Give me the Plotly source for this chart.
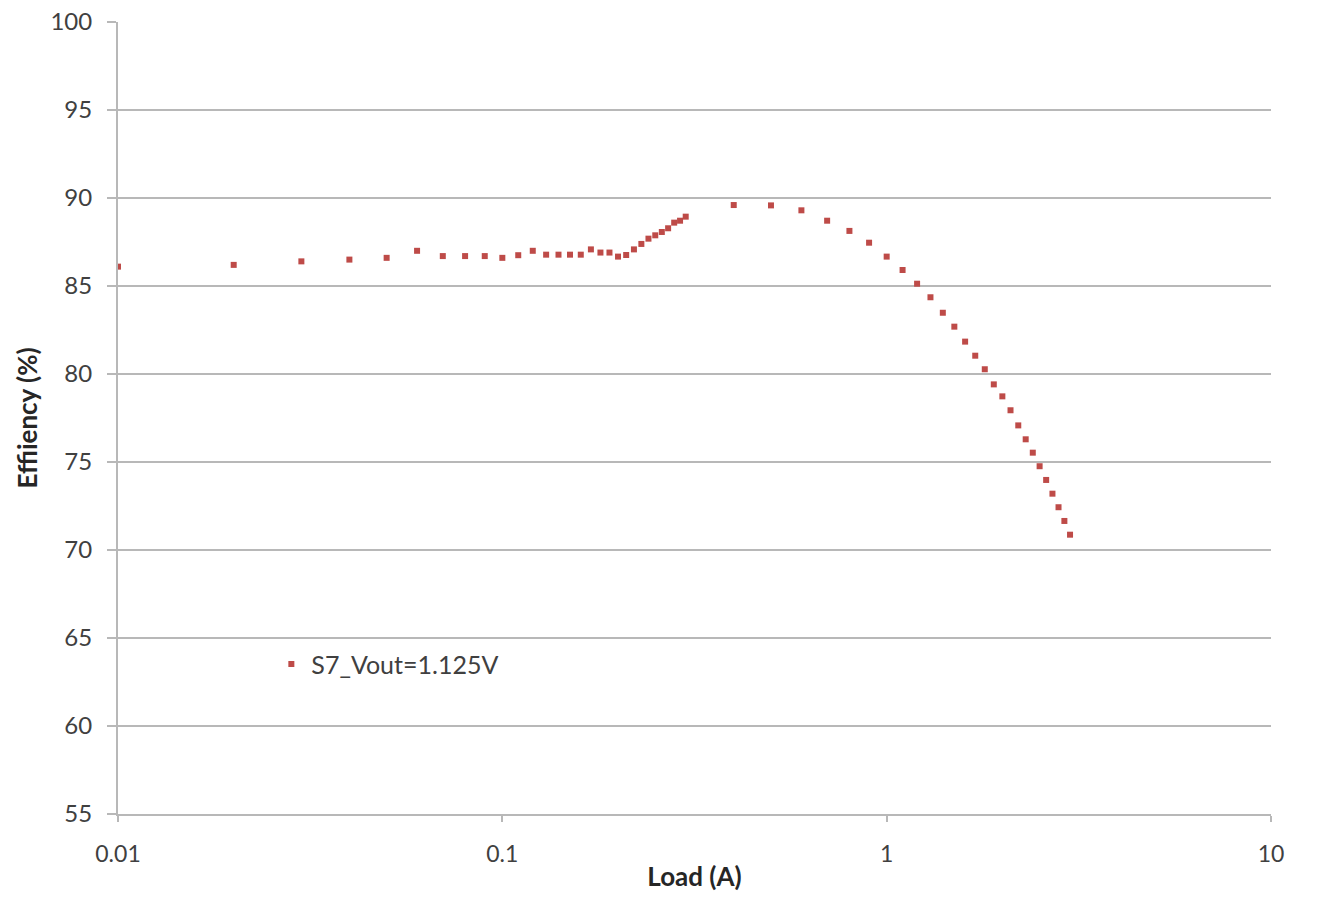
import plotly.graph_objects as go

load_a = [0.01, 0.02, 0.03, 0.04, 0.05, 0.06, 0.07, 0.08, 0.09, 0.1,
          0.11, 0.12, 0.13, 0.14, 0.15, 0.16, 0.17, 0.18, 0.19, 0.2,
          0.21, 0.22, 0.23, 0.24, 0.25, 0.26, 0.27, 0.28, 0.29, 0.3,
          0.4, 0.5, 0.6, 0.7, 0.8, 0.9, 1.0, 1.1, 1.2, 1.3,
          1.4, 1.5, 1.6, 1.7, 1.8, 1.9, 2.0, 2.1, 2.2, 2.3,
          2.4, 2.5, 2.6, 2.7, 2.8, 2.9, 3.0]
efficiency = [86.1, 86.2, 86.4, 86.5, 86.6, 87.0, 86.7, 86.7, 86.7, 86.6,
              86.75, 87.0, 86.78, 86.78, 86.78, 86.78, 87.08, 86.9, 86.9, 86.67,
              86.76, 87.08, 87.39, 87.69, 87.88, 88.07, 88.28, 88.6, 88.71, 88.94,
              89.6, 89.58, 89.3, 88.71, 88.13, 87.46, 86.67, 85.91, 85.13, 84.36,
              83.48, 82.69, 81.84, 81.04, 80.27, 79.41, 78.73, 77.94, 77.08, 76.29,
              75.53, 74.76, 73.98, 73.2, 72.43, 71.65, 70.87]
series_name = "S7_Vout=1.125V"
x_tickvals = [0.01, 0.1, 1, 10]
x_ticktext = ["0.01", "0.1", "1", "10"]
y_tickvals = [55, 60, 65, 70, 75, 80, 85, 90, 95, 100]

FONT = "Lato"
TXT = "#404040"
GRID = "#b8b8b8"

fig = go.Figure()
fig.add_trace(go.Scatter(
    x=load_a, y=efficiency, mode="markers", name=series_name,
    marker=dict(symbol="square", size=6, color="#be4b48"),
    showlegend=True,
))

fig.update_layout(
    width=1322, height=897,
    margin=dict(l=118, r=51, t=22, b=83),
    paper_bgcolor="white", plot_bgcolor="white",
    font=dict(family=FONT, size=23, color=TXT),
    showlegend=True,
    legend=dict(x=0.133, y=0.189, xanchor="left", yanchor="middle",
                bgcolor="rgba(0,0,0,0)", font=dict(family=FONT, size=25, color=TXT),
                itemsizing="trace"),
    xaxis=dict(type="log", range=[-2, 1], tickvals=x_tickvals, ticktext=x_ticktext,
               automargin=False,
               showgrid=False, showline=True, linecolor=GRID, linewidth=2,
               ticks="outside", ticklen=6, tickcolor=GRID, tickwidth=2,
               ticklabelstandoff=12, zeroline=False,
               tickfont=dict(family=FONT, size=23, color=TXT),
               title=dict(text="<b>Load (A)</b>", font=dict(family=FONT, size=26, color="#262626"),
                          standoff=2)),
    yaxis=dict(range=[55, 100], tickvals=y_tickvals,
               automargin=False,
               showgrid=True, gridcolor=GRID, gridwidth=2,
               showline=True, linecolor=GRID, linewidth=2,
               ticks="outside", ticklen=9, tickcolor=GRID, tickwidth=2,
               ticklabelstandoff=10, zeroline=False,
               tickfont=dict(family=FONT, size=24, color=TXT),
               title=dict(text="<b>Effiiency (%)</b>", font=dict(family=FONT, size=26, color="#262626"),
                          standoff=5)),
)

fig.write_html("out.html")
